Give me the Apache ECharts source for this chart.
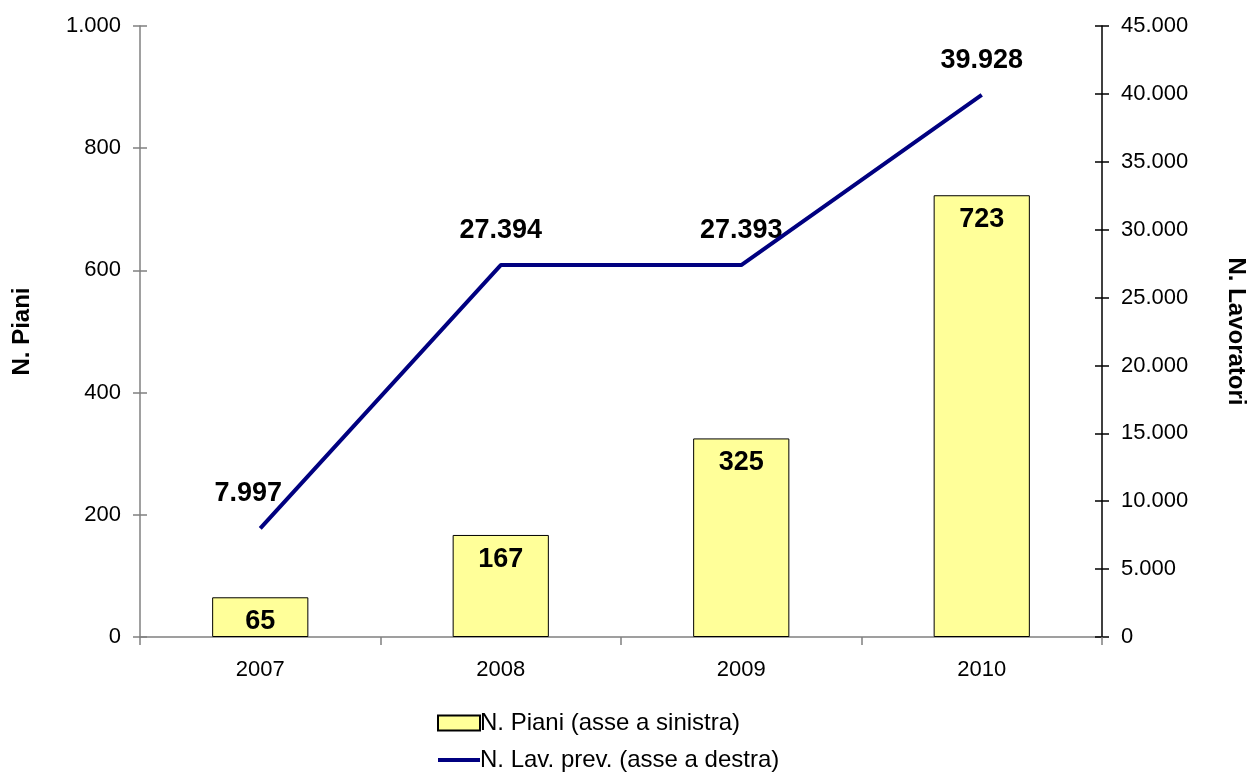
<!DOCTYPE html>
<html><head><meta charset="utf-8">
<script src="https://cdn.jsdelivr.net/npm/echarts@6/dist/echarts.min.js"></script>
<style>html,body{margin:0;padding:0;background:#fff}#c{width:1247px;height:772px}</style>
</head><body><div id="c"></div>
<script>
const categories = ['2007','2008','2009','2010'];
const piani = [65, 167, 325, 723];
const lavoratori = [7997, 27394, 27393, 39928];
const leftTicks = [0, 200, 400, 600, 800, 1000];
const rightTicks = [0, 5000, 10000, 15000, 20000, 25000, 30000, 35000, 40000, 45000];

function fmt(v){ return String(v).replace(/\B(?=(\d{3})+(?!\d))/g, '.'); }
const FONT = 'Liberation Sans, Arial, sans-serif';

const labelData = lavoratori.map((v, i) => i === 0 ? {value: v, label: {offset: [-12, 0]}} : v);

const chart = echarts.init(document.getElementById('c'));
chart.setOption({
  animation: false,
  textStyle: {fontFamily: FONT},
  grid: {left: 140, right: 145, top: 26, bottom: 135, containLabel: false, outerBoundsMode: 'none'},
  legend: {
    orient: 'vertical', left: 432, top: 706, height: 120, itemGap: 13,
    itemWidth: 42, itemHeight: 15,
    textStyle: {fontSize: 24, color: '#000', fontFamily: FONT, padding: [0,0,0,-5]},
    data: [
      {name: 'N. Piani (asse a sinistra)', icon: 'rect'},
      {name: 'N. Lav. prev. (asse a destra)', icon: 'path://M0,0 H42 V4 H0 Z', itemStyle: {color: '#000080'}}
    ]
  },
  xAxis: {
    type: 'category', data: categories, boundaryGap: true,
    axisLine: {lineStyle: {color: '#808080', width: 1.5}},
    axisTick: {show: true, length: 8, lineStyle: {color: '#808080', width: 1.5}},
    axisLabel: {fontSize: 22, color: '#000', margin: 22, fontFamily: FONT}
  },
  yAxis: [
    {
      type: 'value', min: leftTicks[0], max: leftTicks[leftTicks.length-1], interval: 200,
      position: 'left', name: 'N. Piani', nameLocation: 'middle', nameRotate: 90, nameGap: 106,
      nameTextStyle: {fontSize: 24, fontWeight: 'bold', color: '#000', fontFamily: FONT},
      axisLine: {show: true, lineStyle: {color: '#808080', width: 1.5}},
      axisTick: {show: true, length: 7, lineStyle: {color: '#808080', width: 1.5}},
      axisLabel: {fontSize: 22, color: '#000', margin: 19, formatter: fmt, fontFamily: FONT},
      splitLine: {show: false}
    },
    {
      type: 'value', min: rightTicks[0], max: rightTicks[rightTicks.length-1], interval: 5000,
      position: 'right', name: 'N. Lavoratori', nameLocation: 'middle', nameRotate: -90, nameGap: 122,
      nameTextStyle: {fontSize: 24, fontWeight: 'bold', color: '#000', fontFamily: FONT},
      axisLine: {show: true, lineStyle: {color: '#000', width: 1.5}},
      axisTick: {show: true, length: 7, lineStyle: {color: '#000', width: 1.5}},
      axisLabel: {fontSize: 22, color: '#000', margin: 19, formatter: fmt, fontFamily: FONT},
      splitLine: {show: false}
    },
    {
      type: 'value', min: leftTicks[0], max: leftTicks[leftTicks.length-1], interval: 200,
      position: 'left', axisLine: {show: false},
      axisTick: {show: true, inside: true, length: 7, lineStyle: {color: '#808080', width: 1.5}},
      axisLabel: {show: false}, splitLine: {show: false}
    },
    {
      type: 'value', min: rightTicks[0], max: rightTicks[rightTicks.length-1], interval: 5000,
      position: 'right', axisLine: {show: false},
      axisTick: {show: true, inside: true, length: 7, lineStyle: {color: '#000', width: 1.5}},
      axisLabel: {show: false}, splitLine: {show: false}
    }
  ],
  series: [
    {
      name: 'N. Piani (asse a sinistra)', type: 'bar', yAxisIndex: 0, data: piani,
      barWidth: '40%',
      itemStyle: {color: '#FFFF99', borderColor: '#000', borderWidth: 1},
      label: {show: true, position: 'insideTop', distance: 11, fontSize: 27, fontWeight: 'bold', color: '#000', formatter: p => fmt(p.value), fontFamily: FONT}
    },
    {
      name: 'N. Lav. prev. (asse a destra)', type: 'line', yAxisIndex: 1, data: lavoratori,
      symbol: 'none', lineStyle: {color: '#000080', width: 4}, itemStyle: {color: '#000080'}
    },
    {
      name: 'labels', type: 'scatter', yAxisIndex: 1, data: labelData,
      symbolSize: 0, itemStyle: {color: '#000080'}, silent: true,
      label: {show: true, position: 'top', distance: 21, fontSize: 27, fontWeight: 'bold', color: '#000000', opacity: 1, formatter: p => fmt(p.value), fontFamily: FONT}
    }
  ]
});
</script></body></html>
